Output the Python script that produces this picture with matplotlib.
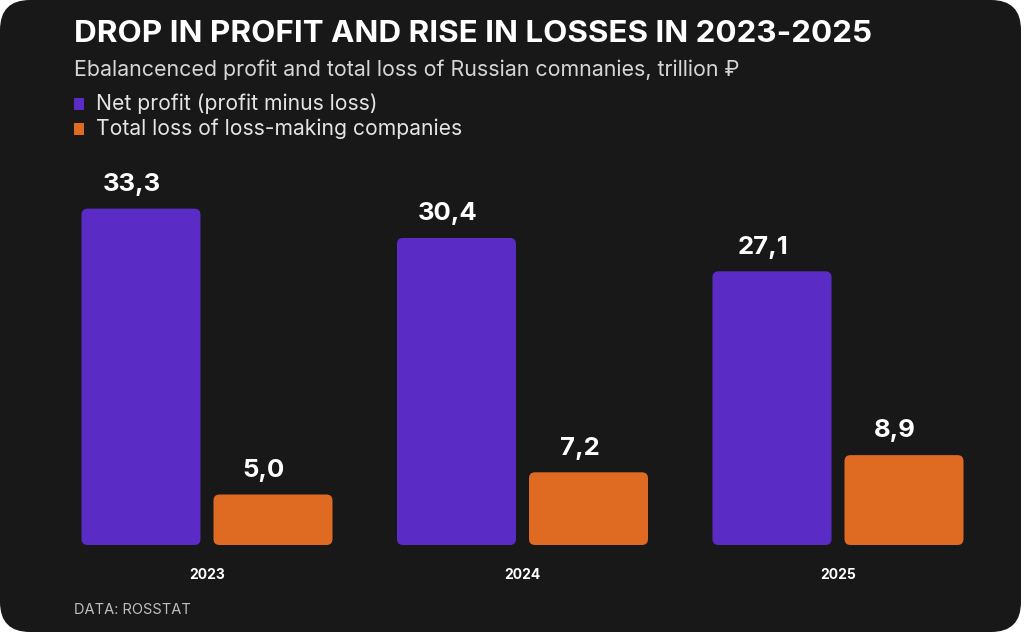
import matplotlib
matplotlib.use("Agg")
import matplotlib.pyplot as plt
from matplotlib.patches import FancyBboxPatch
import numpy as np

years = ["2023", "2024", "2025"]
net_profit = [33.3, 30.4, 27.1]
total_loss = [5.0, 7.2, 8.9]
series_labels = ["Net profit (profit minus loss)", "Total loss of loss-making companies"]
title = "DROP IN PROFIT AND RISE IN LOSSES IN 2023-2025"
subtitle = "Ebalancenced profit and total loss of Russian comnanies, trillion \u20bd"
source = "DATA: ROSSTAT"

PURPLE = "#5B2BC6"
ORANGE = "#DE6B21"
BG = "#181818"
FONT = ["Inter", "DejaVu Sans"]

W, H = 1024, 636
fig = plt.figure(figsize=(W / 100, H / 100), dpi=100, facecolor="white")

# background card in pixel coords
bg = fig.add_axes([0, 0, 1, 1])
bg.set_xlim(0, W)
bg.set_ylim(H, 0)
bg.axis("off")
bg.add_patch(FancyBboxPatch((30, 30), 1021 - 60, 632 - 60,
                            boxstyle="round,pad=30", fc=BG, ec="none"))

# bar axes: y=0 at pixel 545, 10.1 px per unit
px_unit = 10.1
top_px = 100
ax = fig.add_axes([0, (H - 545) / H, 1, (545 - top_px) / H])
ax.set_facecolor("none")
spacing = 315.5
x0 = 207
ax.set_xlim(-x0 / spacing, (W - x0) / spacing)
ax.set_ylim(0, (545 - top_px) / px_unit)
ax.axis("off")

x = np.arange(len(years))
bw = 119 / spacing
off = 66 / spacing
aspect = spacing / px_unit
rad = 6 / spacing
lab_shift = -9 / spacing

for vals, color, dx in [(net_profit, PURPLE, -off), (total_loss, ORANGE, off)]:
    bars = ax.bar(x + dx, vals, width=bw, color=color)
    for b, v in zip(bars, vals):
        b.set_visible(False)
        ax.add_patch(FancyBboxPatch((b.get_x() + rad, b.get_y() + rad * aspect),
                                    b.get_width() - 2 * rad, b.get_height() - 2 * rad * aspect,
                                    boxstyle=f"round,pad={rad}", mutation_aspect=aspect,
                                    fc=color, ec="none"))
        ax.text(b.get_x() + b.get_width() / 2 + lab_shift, v + 1.25, f"{v:.1f}".replace(".", ","),
                ha="center", va="bottom", color="white", fontsize=18.5,
                fontweight="bold", family=FONT)

for xi, yr in zip(x, years):
    ax.text(xi, -3.0, yr, ha="center", va="center", color="white",
            fontsize=10, fontweight="bold", family=FONT, clip_on=False)

# header texts in pixel coords
bg.text(74, 34, title, ha="left", va="center", color="white", fontsize=22.6,
        fontweight="bold", family=FONT)
bg.text(74, 70, subtitle, ha="left", va="center", color="#d6d6d6", fontsize=15.4, family=FONT)
for i, (lab, col) in enumerate(zip(series_labels, [PURPLE, ORANGE])):
    yy = 104 + i * 25
    bg.add_patch(plt.Rectangle((74, yy - 6), 10, 12, fc=col, ec="none"))
    bg.text(96, yy, lab, ha="left", va="center", color="#e4e4e4", fontsize=15.2, family=FONT)
bg.text(74, 610, source, ha="left", va="center", color="#bdbdbd", fontsize=10.5, family=FONT)

fig.savefig("out.png", dpi=100, facecolor="white")
